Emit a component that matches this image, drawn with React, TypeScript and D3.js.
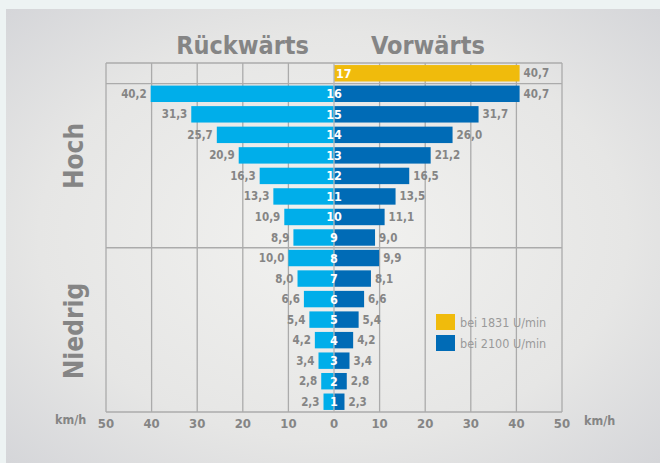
import * as d3 from "d3";
import React from "react";

const gears = [1, 2, 3, 4, 5, 6, 7, 8, 9, 10, 11, 12, 13, 14, 15, 16, 17];
const backward = [2.3, 2.8, 3.4, 4.2, 5.4, 6.6, 8.0, 10.0, 8.9, 10.9, 13.3, 16.3, 20.9, 25.7, 31.3, 40.2, null];
const forward = [2.3, 2.8, 3.4, 4.2, 5.4, 6.6, 8.1, 9.9, 9.0, 11.1, 13.5, 16.5, 21.2, 26.0, 31.7, 40.7, 40.7];
const ticks = [-50, -40, -30, -20, -10, 0, 10, 20, 30, 40, 50];
const legendItems = ["bei 1831 U/min", "bei 2100 U/min"];

const W = 660;
const H = 463;
const font = "'DejaVu Sans Condensed', 'DejaVu Sans', sans-serif";
const grey = "#858585";

const fmt = (v: number) => v.toFixed(1).replace(".", ",");

const App = () => {
  const x = d3.scaleLinear().domain([-50, 50]).range([106, 562]);
  const y = d3
    .scaleBand<number>()
    .domain([...gears].reverse())
    .range([63, 412])
    .paddingInner(0.2)
    .paddingOuter(0.1);
  const rowH = (412 - 63) / gears.length;
  const top = 63;
  const bottom = 412;

  return (
    <svg width={W} height={H} style={{ position: "absolute", left: 0, top: 0 }} fontFamily={font}>
      <defs>
        <radialGradient id="bg" cx="0.5" cy="0.5" r="0.75">
          <stop offset="0%" stopColor="#f2f2f0" />
          <stop offset="60%" stopColor="#e6e6e5" />
          <stop offset="100%" stopColor="#d2d3d7" />
        </radialGradient>
      </defs>
      <rect x={0} y={0} width={W} height={H} fill="#edf3f3" />
      <rect x={6} y={9} width={W - 6} height={H - 9} fill="url(#bg)" />

      {/* grid */}
      <g stroke="#ababab" strokeWidth={1.3}>
        {ticks.map((t) => t !== 0 && (
          <line key={t} x1={x(t)} x2={x(t)} y1={top} y2={bottom} />
        ))}
        <line x1={x(-50)} x2={x(50)} y1={top} y2={top} />
        <line x1={x(-50)} x2={x(50)} y1={top + rowH} y2={top + rowH} />
        <line x1={x(-50)} x2={x(50)} y1={bottom - rowH * 8} y2={bottom - rowH * 8} />
        <line x1={x(-50)} x2={x(50)} y1={bottom} y2={bottom} />
      </g>

      {/* bars */}
      {gears.map((g, i) => {
        const b = backward[i];
        const f = forward[i];
        const yy = y(g)!;
        const bh = y.bandwidth();
        return (
          <g key={g}>
            {b != null && (
              <>
                <rect x={x(-b)} y={yy} width={x(0) - x(-b)} height={bh} fill="#00aeea" />
                <text x={x(-b) - 4} y={yy + bh / 2 + 4} textAnchor="end" fontSize={11.5} fontWeight="bold" fill={grey}>
                  {fmt(b)}
                </text>
              </>
            )}
            <rect x={x(0)} y={yy} width={x(f) - x(0)} height={bh} fill={g === 17 ? "#f0bb0c" : "#006bb6"} />
            <text x={x(f) + 4} y={yy + bh / 2 + 4} fontSize={11.5} fontWeight="bold" fill={grey}>
              {fmt(f)}
            </text>
          </g>
        );
      })}

      <line x1={x(0)} x2={x(0)} y1={top} y2={bottom} stroke="#b5b5b5" strokeWidth={1.3} />

      {gears.map((g) => (
        <text
          key={g}
          x={g === 17 ? x(0) + 2 : x(0)}
          y={y(g)! + y.bandwidth() / 2 + 4.5}
          textAnchor={g === 17 ? "start" : "middle"}
          fontSize={12.5}
          fontWeight="bold"
          fill="#fff"
        >
          {g}
        </text>
      ))}

      {/* axis labels */}
      {ticks.map((t) => (
        <text key={t} x={x(t)} y={428} textAnchor="middle" fontSize={13} fontWeight="bold" fill={grey}>
          {Math.abs(t)}
        </text>
      ))}
      <text x={55} y={424} fontSize={12.5} fontWeight="bold" fill={grey}>km/h</text>
      <text x={584} y={425} fontSize={12.5} fontWeight="bold" fill={grey}>km/h</text>

      {/* titles */}
      <text x={309} y={54} textAnchor="end" fontSize={25} fontWeight="bold" fill={grey}>Rückwärts</text>
      <text x={371} y={54} fontSize={25} fontWeight="bold" fill={grey}>Vorwärts</text>
      <text transform="translate(83,156) rotate(-90)" textAnchor="middle" fontSize={26} fontWeight="bold" fill={grey}>Hoch</text>
      <text transform="translate(83,331) rotate(-90)" textAnchor="middle" fontSize={26} fontWeight="bold" fill={grey}>Niedrig</text>

      {/* legend */}
      {legendItems.map((l, i) => (
        <g key={l} transform={`translate(436, ${314 + i * 21})`}>
          <rect width={19} height={16} fill={i === 0 ? "#f0bb0c" : "#006bb6"} />
          <text x={24} y={13} fontSize={12.5} fill="#9a9a9a">{l}</text>
        </g>
      ))}
    </svg>
  );
};

export default App;
